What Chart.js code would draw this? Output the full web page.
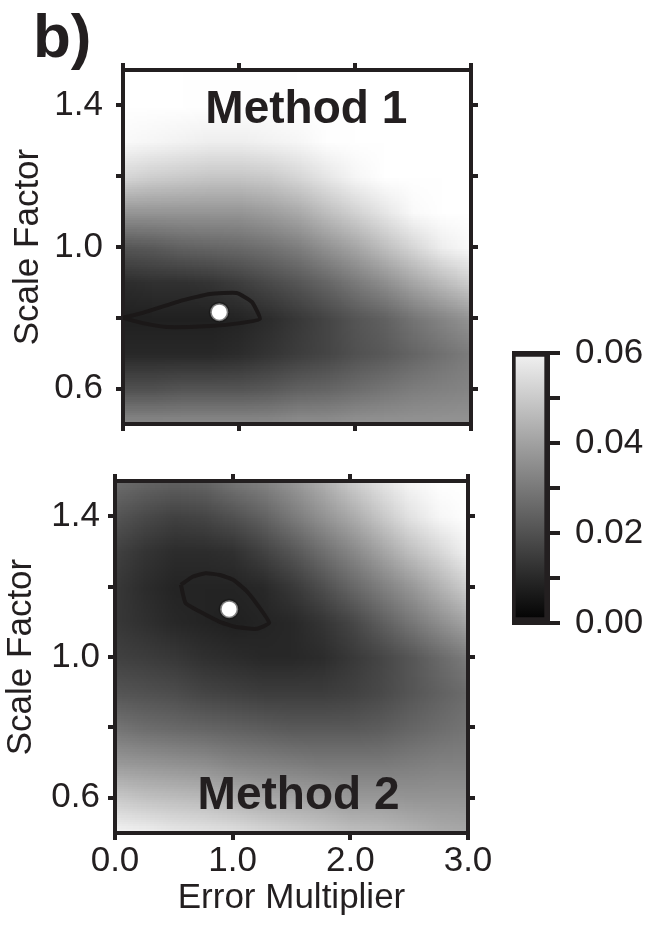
<!DOCTYPE html>
<html>
<head>
<meta charset="utf-8">
<script src="https://cdn.jsdelivr.net/npm/chart.js@4.4.1/dist/chart.umd.min.js"></script>
<style>
  body { margin: 0; background: #fff; }
  #wrap { position: relative; width: 649px; height: 925px; overflow: hidden; background: #fff; }
  canvas { position: absolute; }
  #tag { position: absolute; left: 33px; top: 5px; font: bold 62px "Liberation Sans", Arial, sans-serif; line-height: 62px; color: #231f20; }
</style>
</head>
<body>
<div id="wrap">
  <div id="tag">b)</div>
  <canvas id="panel1" width="500" height="462" style="left:0;top:0"></canvas>
  <canvas id="panel2" width="500" height="475" style="left:0;top:450px"></canvas>
  <canvas id="cbar" width="159" height="350" style="left:490px;top:310px"></canvas>
</div>
<script>
// axes
const xTickValues = [0, 1, 2, 3];
const xTickLabels = ["0.0", "1.0", "2.0", "3.0"];
const yTickValues = [0.6, 0.8, 1.0, 1.2, 1.4];
const yTickLabels = ["0.6", "", "1.0", "", "1.4"];
const colorbarTicks = [0, 0.01, 0.02, 0.03, 0.04, 0.05, 0.06];
const colorbarLabels = ["0.00", "", "0.02", "", "0.04", "", "0.06"];
const colorbarMax = 0.06;

// Method 1 misfit grid (rows: scale factor 1.5 -> 0.5, cols: error multiplier)
const grid1X = [0, 0.25, 0.5, 0.75, 1.0, 1.25, 1.5, 1.75, 2.0, 2.25, 2.5, 2.75, 3.0];
const grid1Y = [1.5, 1.4, 1.3, 1.2, 1.1, 1.0, 0.9, 0.8, 0.7, 0.6, 0.5];
const grid1Values = [
  [0.065, 0.065, 0.065, 0.065, 0.065, 0.065, 0.065, 0.065, 0.065, 0.065, 0.065, 0.065, 0.065],
  [0.065, 0.065, 0.064, 0.063, 0.063, 0.063, 0.064, 0.065, 0.065, 0.065, 0.065, 0.065, 0.065],
  [0.062, 0.061, 0.060, 0.059, 0.059, 0.060, 0.061, 0.063, 0.065, 0.065, 0.065, 0.065, 0.065],
  [0.053, 0.051, 0.050, 0.049, 0.049, 0.050, 0.053, 0.057, 0.061, 0.064, 0.065, 0.065, 0.065],
  [0.037, 0.037, 0.037, 0.037, 0.037, 0.039, 0.042, 0.047, 0.052, 0.057, 0.062, 0.065, 0.065],
  [0.021, 0.022, 0.024, 0.025, 0.026, 0.028, 0.031, 0.036, 0.041, 0.047, 0.053, 0.059, 0.062],
  [0.011, 0.012, 0.012, 0.013, 0.015, 0.018, 0.021, 0.025, 0.030, 0.035, 0.041, 0.046, 0.051],
  [0.008, 0.008, 0.008, 0.008, 0.009, 0.011, 0.014, 0.017, 0.021, 0.024, 0.029, 0.033, 0.037],
  [0.010, 0.010, 0.010, 0.010, 0.011, 0.013, 0.015, 0.017, 0.020, 0.022, 0.025, 0.028, 0.031],
  [0.020, 0.020, 0.021, 0.021, 0.021, 0.022, 0.024, 0.025, 0.027, 0.029, 0.031, 0.032, 0.033],
  [0.035, 0.035, 0.035, 0.035, 0.035, 0.035, 0.036, 0.036, 0.037, 0.037, 0.037, 0.037, 0.037]
];
const contour1X = [0.0, 0.17, 0.52, 0.75, 0.98, 1.11, 1.18, 1.01, 0.75, 0.38, 0.17, 0.0];
const contour1Y = [0.80, 0.814, 0.85, 0.867, 0.87, 0.845, 0.797, 0.785, 0.777, 0.774, 0.785, 0.80];

// Method 2 misfit grid
const grid2X = [0, 0.25, 0.5, 0.75, 1.0, 1.25, 1.5, 1.75, 2.0, 2.25, 2.5, 2.75, 3.0];
const grid2Y = [1.5, 1.4, 1.3, 1.2, 1.1, 1.0, 0.9, 0.8, 0.7, 0.6, 0.5];
const grid2Values = [
  [0.027, 0.025, 0.024, 0.025, 0.029, 0.032, 0.037, 0.043, 0.050, 0.056, 0.061, 0.064, 0.064],
  [0.021, 0.018, 0.016, 0.017, 0.020, 0.024, 0.030, 0.036, 0.042, 0.049, 0.056, 0.061, 0.064],
  [0.016, 0.013, 0.011, 0.011, 0.012, 0.016, 0.021, 0.027, 0.033, 0.040, 0.047, 0.053, 0.060],
  [0.014, 0.011, 0.009, 0.009, 0.009, 0.010, 0.014, 0.019, 0.025, 0.031, 0.037, 0.044, 0.051],
  [0.014, 0.012, 0.010, 0.009, 0.008, 0.009, 0.010, 0.013, 0.017, 0.023, 0.029, 0.035, 0.041],
  [0.016, 0.015, 0.014, 0.012, 0.011, 0.010, 0.010, 0.011, 0.014, 0.017, 0.021, 0.026, 0.031],
  [0.021, 0.020, 0.019, 0.017, 0.016, 0.015, 0.015, 0.015, 0.016, 0.018, 0.021, 0.024, 0.027],
  [0.029, 0.027, 0.026, 0.025, 0.024, 0.023, 0.022, 0.022, 0.022, 0.023, 0.025, 0.027, 0.029],
  [0.038, 0.037, 0.036, 0.035, 0.033, 0.032, 0.031, 0.030, 0.030, 0.030, 0.031, 0.032, 0.032],
  [0.050, 0.048, 0.047, 0.046, 0.044, 0.042, 0.041, 0.040, 0.038, 0.038, 0.037, 0.037, 0.037],
  [0.061, 0.060, 0.058, 0.057, 0.056, 0.054, 0.052, 0.050, 0.048, 0.047, 0.045, 0.043, 0.042]
];
const contour2X = [0.56, 0.60, 0.72, 0.89, 1.03, 1.20, 1.31, 1.20, 1.11, 1.00, 0.89, 0.77, 0.66, 0.56];
const contour2Y = [1.205, 1.153, 1.129, 1.10, 1.085, 1.08, 1.097, 1.153, 1.19, 1.22, 1.233, 1.238, 1.228, 1.205];

// best fit points (method 1, method 2)
const bestX = [0.83, 0.97];
const bestY = [0.816, 1.136];

const dark = "#231f20";
const family = '"Liberation Sans", Arial, Helvetica, sans-serif';

function grayOf(v) {
    let g = Math.round(v / colorbarMax * 242);
    return Math.max(0, Math.min(255, g));
}
function grayCss(v) {
    let g = grayOf(v);
    return "rgb(" + g + "," + g + "," + g + ")";
}

const heatmapPlugin = {
    id: "heatmap",
    beforeDraw(chart, args, opts) {
        const { ctx, chartArea, scales } = chart;
        const xs = opts.xs, ys = opts.ys, vals = opts.values;
        const off = document.createElement("canvas");
        off.width = xs.length;
        off.height = ys.length;
        const octx = off.getContext("2d");
        const img = octx.createImageData(xs.length, ys.length);
        vals.forEach((row, j) => row.forEach((v, i) => {
            const k = (j * xs.length + i) * 4;
            const g = grayOf(v);
            img.data[k] = g; img.data[k + 1] = g; img.data[k + 2] = g; img.data[k + 3] = 255;
        }));
        octx.putImageData(img, 0, 0);
        const hx = (xs[1] - xs[0]) / 2, hy = (ys[0] - ys[1]) / 2;
        const left = scales.x.getPixelForValue(xs[0] - hx);
        const right = scales.x.getPixelForValue(xs[xs.length - 1] + hx);
        const top = scales.y.getPixelForValue(ys[0] + hy);
        const bottom = scales.y.getPixelForValue(ys[ys.length - 1] - hy);
        ctx.save();
        ctx.beginPath();
        ctx.rect(chartArea.left, chartArea.top, chartArea.width, chartArea.height);
        ctx.clip();
        ctx.imageSmoothingEnabled = true;
        ctx.drawImage(off, left, top, right - left, bottom - top);
        ctx.restore();
    }
};

const panelTextPlugin = {
    id: "panelText",
    afterDatasetsDraw(chart, args, opts) {
        const { ctx, scales } = chart;
        ctx.save();
        ctx.font = "bold 46px " + family;
        ctx.fillStyle = dark;
        ctx.textAlign = "center";
        ctx.textBaseline = "alphabetic";
        ctx.fillText(opts.text, scales.x.getPixelForValue(opts.x), scales.y.getPixelForValue(opts.y));
        ctx.restore();
    }
};

function axisLine() {
    return { drawOnChartArea: false, drawTicks: true, tickLength: 7, lineWidth: 4, color: dark };
}

function makePanel(id, cfg) {
    const canvas = document.getElementById(id);
    const W = canvas.width, H = canvas.height;
    const box = cfg.box;
    const contour = cfg.contourX.map((x, i) => ({ x: x, y: cfg.contourY[i] }));
    const tickFont = { family: family, size: 35, lineHeight: 1.1 };
    const titleFont = { family: family, size: 35 };

    new Chart(canvas.getContext("2d"), {
        type: "scatter",
        data: {
            datasets: [
                {
                    data: contour,
                    showLine: true,
                    pointRadius: 0,
                    borderColor: "#1b1818",
                    borderWidth: 4,
                    tension: 0.15,
                    fill: false
                },
                {
                    data: [{ x: bestX[cfg.index], y: bestY[cfg.index] }],
                    pointRadius: 9,
                    pointBackgroundColor: "#ffffff",
                    pointBorderColor: "rgba(20,20,20,0.55)",
                    pointBorderWidth: 3
                }
            ]
        },
        options: {
            responsive: false,
            animation: false,
            events: [],
            layout: { padding: 0 },
            plugins: {
                legend: { display: false },
                tooltip: { enabled: false },
                heatmap: { xs: cfg.xs, ys: cfg.ys, values: cfg.values },
                panelText: { text: cfg.label, x: cfg.labelX, y: cfg.labelY }
            },
            scales: {
                x: {
                    type: "linear", position: "bottom", min: 0, max: 3,
                    afterBuildTicks: s => { s.ticks = xTickValues.map(v => ({ value: v })); },
                    ticks: { display: cfg.showX, callback: (v, i) => xTickLabels[i], font: tickFont, color: dark, padding: 2, maxRotation: 0 },
                    grid: axisLine(),
                    border: { display: true, width: 4, color: dark },
                    title: { display: cfg.showX, text: "Error Multiplier", color: dark, font: titleFont, padding: { top: 0, bottom: 6 } },
                    afterFit: s => { s.height = H - box.bottom; }
                },
                x2: {
                    type: "linear", position: "top", min: 0, max: 3,
                    afterBuildTicks: s => { s.ticks = xTickValues.map(v => ({ value: v })); },
                    ticks: { display: false },
                    grid: axisLine(),
                    border: { display: true, width: 4, color: dark },
                    afterFit: s => { s.height = box.top; }
                },
                y: {
                    type: "linear", position: "left", min: 0.5, max: 1.5,
                    afterBuildTicks: s => { s.ticks = yTickValues.map(v => ({ value: v })); },
                    ticks: { callback: (v, i) => yTickLabels[i], font: tickFont, color: dark, padding: cfg.yPad },
                    grid: axisLine(),
                    border: { display: true, width: 4, color: dark },
                    title: { display: true, text: "Scale Factor", color: dark, font: titleFont, padding: { top: cfg.titlePad, bottom: 0 } },
                    afterFit: s => { s.width = box.left; }
                },
                y2: {
                    type: "linear", position: "right", min: 0.5, max: 1.5,
                    afterBuildTicks: s => { s.ticks = yTickValues.map(v => ({ value: v })); },
                    ticks: { display: false },
                    grid: axisLine(),
                    border: { display: true, width: 4, color: dark },
                    afterFit: s => { s.width = W - box.right; }
                }
            }
        },
        plugins: [heatmapPlugin, panelTextPlugin]
    });
}

makePanel("panel1", {
    index: 0, xs: grid1X, ys: grid1Y, values: grid1Values,
    contourX: contour1X, contourY: contour1Y,
    label: "Method 1", labelX: 1.58, labelY: 1.35,
    showX: false, yPad: 13, titlePad: 7,
    box: { left: 123, top: 70, right: 471, bottom: 424 }
});

makePanel("panel2", {
    index: 1, xs: grid2X, ys: grid2Y, values: grid2Values,
    contourX: contour2X, contourY: contour2Y,
    label: "Method 2", labelX: 1.56, labelY: 0.568,
    showX: true, yPad: 8, titlePad: 0,
    box: { left: 115, top: 31, right: 468, bottom: 383 }
});

// colour bar
new Chart(document.getElementById("cbar").getContext("2d"), {
    type: "bar",
    data: {
        labels: [""],
        datasets: [{
            data: [colorbarMax],
            backgroundColor: c => {
                const area = c.chart.chartArea;
                if (!area) return dark;
                const g = c.chart.ctx.createLinearGradient(0, area.bottom, 0, area.top);
                colorbarTicks.forEach(v => g.addColorStop(v / colorbarMax, grayCss(v)));
                return g;
            },
            borderColor: dark,
            borderWidth: 4,
            borderSkipped: false,
            barPercentage: 1,
            categoryPercentage: 1
        }]
    },
    options: {
        responsive: false,
        animation: false,
        events: [],
        layout: { padding: { left: 22, top: 43, bottom: 37, right: 0 } },
        plugins: { legend: { display: false }, tooltip: { enabled: false } },
        scales: {
            x: { display: false },
            y: {
                position: "right", min: 0, max: colorbarMax, z: 1,
                afterBuildTicks: s => { s.ticks = colorbarTicks.map(v => ({ value: v })); },
                ticks: { callback: (v, i) => colorbarLabels[i], font: { family: family, size: 35, lineHeight: 1 }, color: dark, padding: 15 },
                grid: { drawOnChartArea: true, drawTicks: true, tickLength: 12, lineWidth: 4, color: dark },
                border: { display: true, width: 4, color: dark },
                afterFit: s => { s.width = 101; }
            }
        }
    }
});
</script>
</body>
</html>
